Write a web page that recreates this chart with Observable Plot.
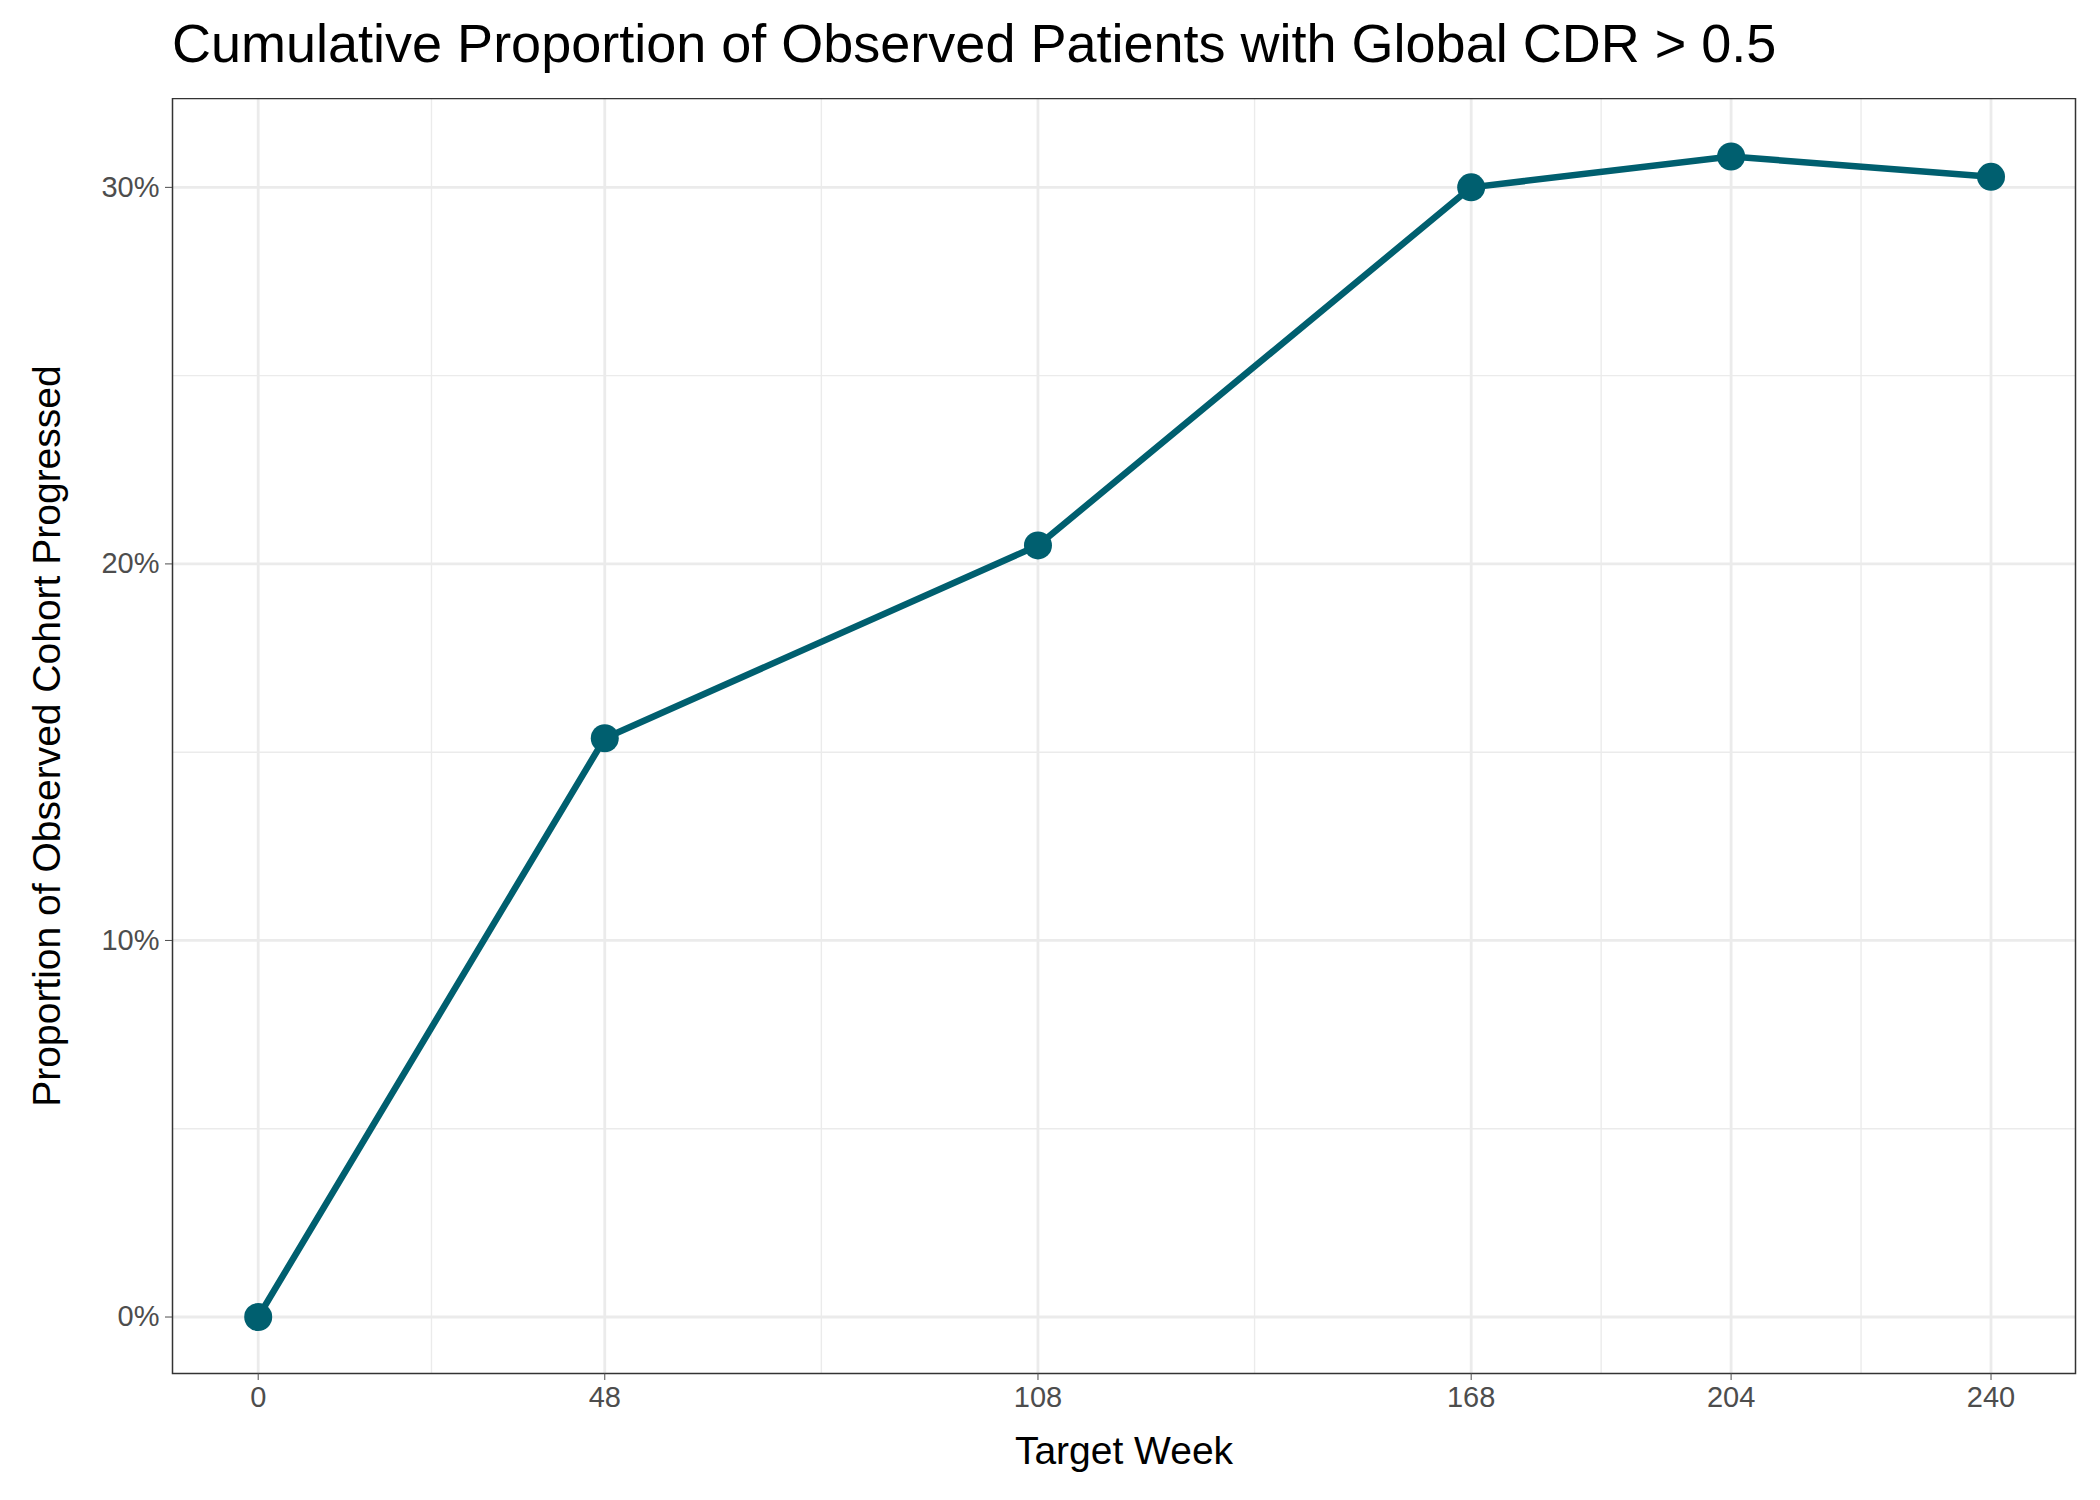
<!DOCTYPE html>
<html><head><meta charset="utf-8">
<script src="https://cdn.jsdelivr.net/npm/d3@7"></script>
<script src="https://cdn.jsdelivr.net/npm/@observablehq/plot@0.6"></script>
<style>
body{margin:0;background:#fff;font-family:"Liberation Sans",Arial,sans-serif;}
#title{height:98px;box-sizing:border-box;padding:12px 0 0 172px;font-size:54px;color:#000;white-space:nowrap;}
</style></head>
<body>
<div id="title">Cumulative Proportion of Observed Patients with Global CDR &gt; 0.5</div>
<div id="chart"></div>
<script>
const weeks = [0, 48, 108, 168, 204, 240];
const pct = [0, 15.37, 20.49, 30.0, 30.82, 30.28];
const xMajor = [0, 48, 108, 168, 204, 240];
const xMinor = [24, 78, 138, 186, 222];
const yMajor = [0, 10, 20, 30];
const yMinor = [5, 15, 25];

const data = weeks.map((w, i) => ({week: w, pct: pct[i]}));
const col = "#005f6f";

let chart = Plot.plot({
  width: 2100,
  height: 1402,
  marginTop: 0,
  marginBottom: 127,
  marginLeft: 172,
  marginRight: 25,
  style: {fontFamily: "Liberation Sans, Arial, sans-serif", background: "#fff"},
  x: {domain: [-11.87, 251.7]},
  y: {domain: [-1.5, 32.36]},
  marks: [
    Plot.ruleX(xMinor, {stroke: "#ebebeb", strokeWidth: 1.4}),
    Plot.ruleY(yMinor, {stroke: "#ebebeb", strokeWidth: 1.4}),
    Plot.ruleX(xMajor, {stroke: "#ebebeb", strokeWidth: 2.8}),
    Plot.ruleY(yMajor, {stroke: "#ebebeb", strokeWidth: 2.8}),
    Plot.frame({stroke: "#333", strokeWidth: 1.5}),
    Plot.axisX({ticks: xMajor, tickSize: 7, tickPadding: 6, fontSize: 29, color: "#4d4d4d",
      label: "Target Week", labelAnchor: "center", labelArrow: "none", labelOffset: 90}),
    Plot.axisY({ticks: yMajor, tickSize: 7, tickPadding: 6, fontSize: 29, color: "#4d4d4d",
      tickFormat: d => d + "%",
      label: "Proportion of Observed Cohort Progressed", labelAnchor: "center", labelArrow: "none", labelOffset: 140}),
    Plot.line(data, {x: "week", y: "pct", stroke: col, strokeWidth: 6.5}),
    Plot.dot(data, {x: "week", y: "pct", fill: col, r: 14})
  ]
});
d3.select("#chart").append(() => chart);
d3.selectAll("#chart svg g[aria-label='x-axis label'] text, #chart svg g[aria-label='y-axis label'] text")
  .style("font-size", "39px").attr("fill", "#000");
</script>
</body></html>
